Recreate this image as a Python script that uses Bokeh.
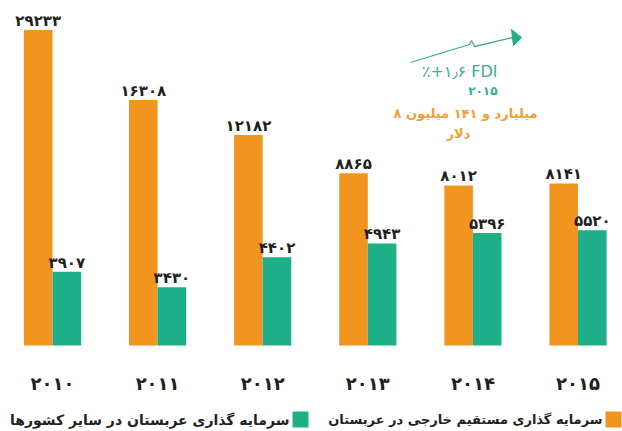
from bokeh.plotting import figure
from bokeh.models import Range1d, LinearScale, ColumnDataSource
from bokeh.transform import dodge
from bokeh.core.properties import value
from bokeh.embed import file_html
from bokeh.resources import INLINE

# ---- data -------------------------------------------------------------
years = ["2010", "2011", "2012", "2013", "2014", "2015"]
fdi_inflow = [29233, 16308, 12182, 8865, 8012, 8141]      # FDI into Saudi Arabia
fdi_outflow = [3907, 3430, 4402, 4943, 5396, 5520]        # Saudi investment abroad
legend_inflow = "سرمایه گذاری مستقیم خارجی در عربستان"
legend_outflow = "سرمایه گذاری عربستان در سایر کشورها"
note_growth = "٪+۱٫۶ FDI"
note_year = "2015"
note_amount = "۸ میلیارد و ۱۴۱ میلیون"
note_unit = "دلار"

FA_DIGITS = str.maketrans("0123456789", "۰۱۲۳۴۵۶۷۸۹")


def fa(v):
    return str(v).translate(FA_DIGITS)


# ---- layout / style ---------------------------------------------------
W, H = 622, 431
BASE = 2113          # value sitting on the baseline of the (log) bar scale
DECADE_PX = 276.6    # pixels per decade
BASE_ROW = 345       # baseline row, from the top
STEP = 105.1         # pixels between year groups
FIRST = 52           # centre of the first group
BAR_W = 0.272        # bar width in group units
OFF = BAR_W / 2

ORANGE = "#F2951F"
TEAL = "#1EAF88"
TEXT = "#231F20"
NOTE_TEAL = "#3AAE96"
NOTE_ORANGE = "#F0A032"
FONT = value("DejaVu Sans")

y_top = BASE * 10 ** (BASE_ROW / DECADE_PX)
y_bot = BASE / 10 ** ((H - BASE_ROW) / DECADE_PX)

p = figure(
    width=W, height=H,
    x_range=Range1d(-FIRST / STEP, (W - FIRST) / STEP),
    y_range=Range1d(y_bot, y_top),
    y_axis_type="log",
    x_axis_location=None, y_axis_location=None,
    output_backend="svg", toolbar_location=None,
    min_border=0,
)
p.grid.visible = False
p.outline_line_color = None
p.background_fill_color = "white"
p.border_fill_color = "white"

# pixel-style helper ranges for the annotations and the legend
p.extra_x_ranges = {"px": Range1d(0, W)}
p.extra_y_ranges = {"px": Range1d(H, 0)}
p.extra_x_scales = {"px": LinearScale()}
p.extra_y_scales = {"px": LinearScale()}

src = ColumnDataSource(dict(
    x=list(range(len(years))),
    inflow=fdi_inflow,
    outflow=fdi_outflow,
    lbl_in=[fa(v) for v in fdi_inflow],
    lbl_out=[fa(v) for v in fdi_outflow],
    year=[fa(y) for y in years],
))

x_in = dodge("x", -OFF, range=p.x_range)
x_out = dodge("x", OFF, range=p.x_range)

p.vbar(x=x_in, top="inflow", bottom=BASE, width=BAR_W, fill_color=ORANGE,
       line_color=None, source=src)
p.vbar(x=x_out, top="outflow", bottom=BASE, width=BAR_W, fill_color=TEAL,
       line_color=None, source=src)

label_kw = dict(text_align="center", text_baseline="bottom",
                text_font=FONT, text_font_style="bold", text_font_size="15px",
                text_color=TEXT, source=src)
p.text(x=x_in, y="inflow", text="lbl_in", **label_kw)
p.text(x=x_out, y="outflow", text="lbl_out", **label_kw)

# year labels under each group
p.text(x="x", y=383, text="year", y_range_name="px", source=src,
       text_align="center", text_baseline="middle", text_font=FONT,
       text_font_style="bold", text_font_size="18px", text_color=TEXT)

# legend (right to left)
p.scatter(x=[613, 300], y=[419, 419], marker="square", size=16,
          fill_color=[ORANGE, TEAL], line_color=None,
          x_range_name="px", y_range_name="px")
p.text(x=[602], y=[419], text=[legend_inflow],
       x_range_name="px", y_range_name="px", text_align="right",
       text_baseline="middle", text_font=FONT, text_font_style="bold",
       text_font_size="13px", text_color=TEXT)
p.text(x=[289], y=[419], text=[legend_outflow],
       x_range_name="px", y_range_name="px", text_align="right",
       text_baseline="middle", text_font=FONT, text_font_style="bold",
       text_font_size="14px", text_color=TEXT)

# growth note with arrow
arrow_x = [410, 469, 471, 474, 512]
arrow_y = [62, 44, 40, 46, 37]
p.line(x=arrow_x, y=arrow_y, x_range_name="px", y_range_name="px",
       line_color=NOTE_TEAL, line_width=1.3)
p.patch(x=[511, 521, 513], y=[29, 37, 45], x_range_name="px", y_range_name="px",
        fill_color=TEAL, line_color=TEAL)

p.text(x=[497], y=[71], text=[note_growth], x_range_name="px", y_range_name="px",
       text_align="right", text_baseline="middle", text_font=FONT,
       text_font_size="16px", text_color=NOTE_TEAL)
p.text(x=[497], y=[90], text=[fa(note_year)], x_range_name="px", y_range_name="px",
       text_align="right", text_baseline="middle", text_font=FONT,
       text_font_style="bold", text_font_size="12px", text_color=NOTE_TEAL)
p.text(x=[465, 458], y=[113, 133], text=[note_amount, note_unit],
       x_range_name="px", y_range_name="px", text_align="center",
       text_baseline="middle", text_font=FONT, text_font_style="bold",
       text_font_size="13px", text_color=NOTE_ORANGE)

open("out.html", "w").write(file_html(p, INLINE))
